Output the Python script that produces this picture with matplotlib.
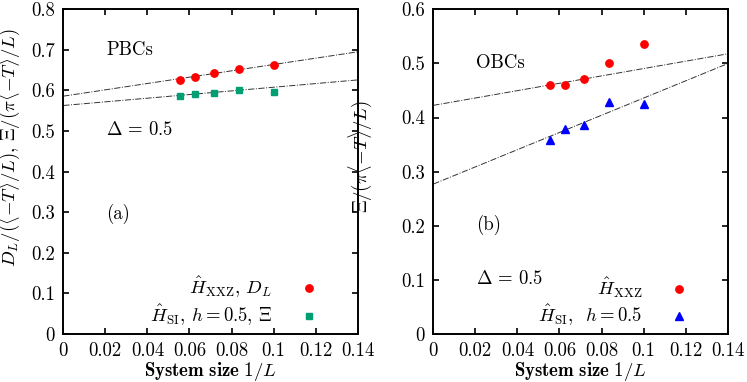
import numpy as np
import matplotlib
matplotlib.use("Agg")
import matplotlib.pyplot as plt
from matplotlib.ticker import MultipleLocator, FuncFormatter

plt.rcParams["font.family"] = "serif"
plt.rcParams["font.serif"] = ["cmr10"]
plt.rcParams["mathtext.fontset"] = "cm"
plt.rcParams["axes.formatter.use_mathtext"] = True
FS = 13.5
plt.rcParams["font.size"] = FS

# system sizes L = 18, 16, 14, 12, 10
inv_L = [1 / 18, 1 / 16, 1 / 14, 1 / 12, 1 / 10]

# (a) PBCs
pbc_xxz = [0.627, 0.633, 0.643, 0.652, 0.662]
pbc_si = [0.587, 0.592, 0.594, 0.600, 0.597]
pbc_fit_xxz = (0.586, 0.78)   # intercept, slope
pbc_fit_si = (0.563, 0.45)

# (b) OBCs
obc_xxz = [0.461, 0.461, 0.472, 0.501, 0.535]
obc_si = [0.358, 0.378, 0.386, 0.428, 0.425]
obc_fit_xxz = (0.4225, 0.68)
obc_fit_si = (0.277, 1.59)

RED = "#ff0000"
GREEN = "#009e73"
BLUE = "#0000ff"

fig = plt.figure(figsize=(7.47, 3.82), dpi=100)
W, H = 747, 382
ax_a = fig.add_axes([63.3 / W, 48 / H, 294.4 / W, 324.7 / H])
ax_b = fig.add_axes([433.3 / W, 48 / H, 294.4 / W, 324.7 / H])

xfit = np.array([0.0, 0.14])
fmt = FuncFormatter(lambda v, p: "%g" % round(v, 4))


def style(ax, ymax):
    ax.set_xlim(0, 0.14)
    ax.set_ylim(0, ymax)
    ax.xaxis.set_major_locator(MultipleLocator(0.02))
    ax.yaxis.set_major_locator(MultipleLocator(0.1))
    ax.xaxis.set_major_formatter(fmt)
    ax.yaxis.set_major_formatter(fmt)
    ax.tick_params(direction="in", top=True, right=True, length=4, width=1.2,
                   labelsize=FS, pad=6)
    for s in ax.spines.values():
        s.set_linewidth(1.4)
    ax.set_xlabel(r"$\mathbf{System\ size}\ 1/L$", fontsize=FS, labelpad=0)


def legend(ax):
    ax.legend(loc="lower right", frameon=False, markerfirst=False,
              fontsize=FS, handlelength=1.5, handletextpad=1.2,
              labelspacing=0.15, borderaxespad=0.15, borderpad=0.15,
              bbox_to_anchor=(0.90, 0.0))


# panel (a)
for b0, b1 in (pbc_fit_xxz, pbc_fit_si):
    ax_a.plot(xfit, b0 + b1 * xfit, ls="-.", color="0.2", lw=0.7)
ax_a.plot(inv_L, pbc_xxz, "o", color=RED, ms=5.3, ls="none",
          label=r"$\hat{H}_{\mathrm{XXZ}}$, $D_L$")
ax_a.plot(inv_L, pbc_si, "s", color=GREEN, ms=5.0, ls="none",
          label=r"$\hat{H}_{\mathrm{SI}}$, $h=0.5$, $\Xi$")
style(ax_a, 0.8)
ax_a.set_ylabel(r"$D_L/(\langle{-}T\rangle/L)$, $\Xi/(\pi\langle{-}T\rangle/L)$",
                fontsize=FS)
ax_a.yaxis.set_label_coords(-0.14, 0.573)
ax_a.text(0.0205, 0.70, "PBCs", va="center", ha="left")
ax_a.text(0.0205, 0.503, r"$\Delta\,=\,0.5$", va="center", ha="left")
ax_a.text(0.0205, 0.297, "(a)", va="center", ha="left")
legend(ax_a)

# panel (b)
for b0, b1 in (obc_fit_xxz, obc_fit_si):
    ax_b.plot(xfit, b0 + b1 * xfit, ls="-.", color="0.2", lw=0.7)
ax_b.plot(inv_L, obc_xxz, "o", color=RED, ms=5.3, ls="none",
          label=r"$\hat{H}_{\mathrm{XXZ}}$")
ax_b.plot(inv_L, obc_si, "^", color=BLUE, ms=5.3, ls="none",
          label=r"$\hat{H}_{\mathrm{SI}}$,  $h=0.5$")
style(ax_b, 0.6)
ax_b.set_ylabel(r"$\Xi/(\pi\langle{-}T\rangle/L)$", fontsize=FS)
ax_b.yaxis.set_label_coords(-0.20, 0.545)
ax_b.text(0.0205, 0.50, "OBCs", va="center", ha="left")
ax_b.text(0.0205, 0.201, "(b)", va="center", ha="left")
ax_b.text(0.0205, 0.101, r"$\Delta\,=\,0.5$", va="center", ha="left")
legend(ax_b)

fig.savefig("out.png", dpi=100)
